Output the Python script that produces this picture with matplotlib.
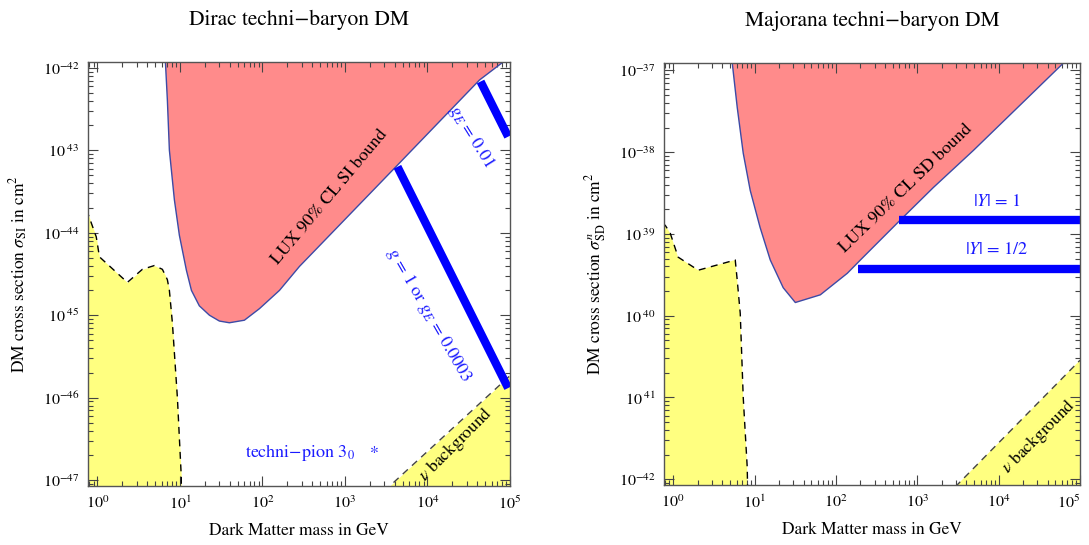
import matplotlib
matplotlib.use('Agg')
import matplotlib.pyplot as plt
from matplotlib.ticker import FixedLocator, LogLocator, NullFormatter

plt.rcParams['font.family'] = ['STIXGeneral', 'DejaVu Serif']
plt.rcParams['mathtext.fontset'] = 'stix'

# --- Dirac panel (spin independent) ---
lux_si_m = [6.5, 6.67, 7.05, 7.46, 8.58, 9.86, 12.0, 13.8, 17.2, 22.8, 30.1, 39.8,
            60.5, 92, 161, 281, 4330, 42700, 85000, 1.2e5]
lux_si_s = [1e-41, 1.2e-42, 4.1e-43, 1.0e-43, 2.5e-44, 9.3e-45, 3.5e-45, 2.0e-45,
            1.3e-45, 1.0e-45, 8.5e-46, 8.1e-46, 8.7e-46, 1.2e-45, 2.0e-45, 3.9e-45,
            6.6e-44, 7.1e-43, 1.2e-42, 1.7e-42]
nu_lo_si_m = [0.74, 0.97, 1.06, 2.31, 3.51, 4.91, 6.14, 7.05, 7.46, 8.11, 9.33, 10.4, 10.45]
nu_lo_si_s = [1.9e-44, 8.9e-45, 5.1e-45, 2.5e-45, 3.6e-45, 4.0e-45, 3.6e-45, 2.7e-45,
              2.0e-45, 8.1e-46, 1.0e-46, 1.1e-47, 1e-48]
nu_hi_si_m = [3000, 1e5]
nu_hi_si_s = [7.4e-48, 1.85e-46]
bar_g1_m = [4330, 95000]
bar_g1_s = [6.3e-44, 1.31e-46]
bar_gE_m = [44000, 95000]
bar_gE_s = [6.8e-43, 1.46e-43]
pion_m = 2290
pion_s = 1.85e-47

# --- Majorana panel (spin dependent) ---
lux_sd_m = [5.2, 5.32, 6.13, 7.26, 8.85, 11.7, 15.6, 22.5, 31.7, 64.3, 138, 200,
            586, 1580, 4900, 62700, 1e5]
lux_sd_s = [1e-36, 1.23e-37, 3.5e-38, 9.7e-39, 3.4e-39, 1.2e-39, 4.8e-40, 2.2e-40,
            1.45e-40, 1.8e-40, 3.3e-40, 4.8e-40, 1.4e-39, 3.7e-39, 1.05e-38,
            1.23e-37, 1.9e-37]
nu_lo_sd_m = [0.74, 0.80, 0.92, 1.15, 2.03, 5.79, 6.13, 6.67, 7.26, 8.13, 8.5]
nu_lo_sd_s = [1.35e-39, 1.27e-39, 1.02e-39, 5.2e-40, 3.6e-40, 4.8e-40, 2.7e-40,
              1.07e-40, 1.0e-41, 1.4e-42, 1e-43]
nu_hi_sd_m = [2940, 1e5]
nu_hi_sd_s = [8.1e-43, 2.85e-41]
bar_y1_m = [603, 1e5]
bar_y1_s = [1.48e-39, 1.48e-39]
bar_yh_m = [189, 1e5]
bar_yh_s = [3.7e-40, 3.7e-40]

x_ticks = [1, 10, 100, 1e3, 1e4, 1e5]
x_labels = [r'$10^{0}$', r'$10^{1}$', r'$10^{2}$', r'$10^{3}$', r'$10^{4}$', r'$10^{5}$']
si_ticks = [1e-47, 1e-46, 1e-45, 1e-44, 1e-43, 1e-42]
si_labels = [r'$10^{-47}$', r'$10^{-46}$', r'$10^{\ 45}$', r'$10^{-44}$',
             r'$10^{\ 43}$', r'$10^{-42}$']
sd_ticks = [1e-42, 1e-41, 1e-40, 1e-39, 1e-38, 1e-37]
sd_labels = [r'$10^{-42}$', r'$10^{\ 41}$', r'$10^{\ 40}$', r'$10^{\ 39}$',
             r'$10^{-38}$', r'$10^{-37}$']

red = '#ff8b8b'
yellow = '#ffff80'
edge = '#3c4aa6'
blue = '#0000ff'
txtblue = '#1a1aff'

fig = plt.figure(figsize=(10.89, 5.45), dpi=100)
ax1 = fig.add_axes([0.0808, 0.1083, 0.3875, 0.7780])
ax2 = fig.add_axes([0.6097, 0.1101, 0.3820, 0.7743])


def style(ax, yt, yl, ylim):
    ax.set_xscale('log')
    ax.set_yscale('log')
    ax.set_xlim(0.77, 1e5)
    ax.set_ylim(*ylim)
    ax.xaxis.set_major_locator(FixedLocator(x_ticks))
    ax.set_xticklabels(x_labels)
    ax.yaxis.set_major_locator(FixedLocator(yt))
    ax.set_yticklabels(yl)
    ax.xaxis.set_minor_locator(LogLocator(base=10, subs=range(2, 10), numticks=20))
    ax.yaxis.set_minor_locator(LogLocator(base=10, subs=range(2, 10), numticks=20))
    ax.xaxis.set_minor_formatter(NullFormatter())
    ax.yaxis.set_minor_formatter(NullFormatter())
    ax.tick_params(which='both', direction='in', top=True, right=True,
                   color='#444444', labelsize=11.5, width=0.8)
    ax.tick_params(which='major', length=7, pad=6)
    ax.tick_params(which='minor', length=3.5)
    for s in ax.spines.values():
        s.set_color('#555555')
        s.set_linewidth(1)
    ax.set_xlabel('Dark Matter mass in GeV', fontsize=12.5)
    ax.xaxis.set_label_coords(0.5, -0.088)


# Dirac panel
ax1.fill_between(lux_si_m, lux_si_s, 1e-30, color=red, lw=0)
ax1.plot(lux_si_m, lux_si_s, color=edge, lw=1)
ax1.fill_between(nu_lo_si_m, nu_lo_si_s, 1e-50, color=yellow, lw=0)
ax1.plot(nu_lo_si_m, nu_lo_si_s, color='black', lw=1, ls=(0, (5, 4)))
ax1.fill_between(nu_hi_si_m, nu_hi_si_s, 1e-50, color=yellow, lw=0)
ax1.plot(nu_hi_si_m, nu_hi_si_s, color='#444444', lw=1, ls=(0, (5, 4)))
ax1.plot(bar_g1_m, bar_g1_s, color=blue, lw=6, solid_capstyle='butt')
ax1.plot(bar_gE_m, bar_gE_s, color=blue, lw=6, solid_capstyle='butt')
ax1.text(pion_m, pion_s, '*', ha='center', va='baseline', fontsize=13, color=txtblue)
style(ax1, si_ticks, si_labels, (10**-47.07, 10**-41.93))
ax1.set_ylabel(r'DM cross section $\sigma_{\rm SI}$ in cm$^2$', fontsize=12.5)
ax1.yaxis.set_label_coords(-0.137, 0.5)
ax1.text(0.5, 1.1, 'Dirac techni\u2212baryon DM', transform=ax1.transAxes,
         ha='center', va='center', fontsize=15.5)
ax1.text(0.573, 0.682, 'LUX 90% CL SI bound', transform=ax1.transAxes,
         ha='center', va='center', rotation=50, fontsize=13)
ax1.text(0.908, 0.823, r'$g_E$ = 0.01', transform=ax1.transAxes,
         ha='center', va='center', rotation=-58, fontsize=13, color=txtblue)
ax1.text(0.808, 0.403, r'$g$ = 1 or $g_E$ = 0.0003', transform=ax1.transAxes,
         ha='center', va='center', rotation=-60, fontsize=13, color=txtblue)
ax1.text(0.502, 0.080, 'techni\u2212pion $3_0$', transform=ax1.transAxes,
         ha='center', va='center', fontsize=13, color=txtblue)
ax1.text(0.872, 0.099, r'$\nu$ background', transform=ax1.transAxes,
         ha='center', va='center', rotation=45, fontsize=12.5)

# Majorana panel
ax2.fill_between(lux_sd_m, lux_sd_s, 1e-30, color=red, lw=0)
ax2.plot(lux_sd_m, lux_sd_s, color=edge, lw=1)
ax2.fill_between(nu_lo_sd_m, nu_lo_sd_s, 1e-50, color=yellow, lw=0)
ax2.plot(nu_lo_sd_m, nu_lo_sd_s, color='black', lw=1, ls=(0, (5, 4)))
ax2.fill_between(nu_hi_sd_m, nu_hi_sd_s, 1e-50, color=yellow, lw=0)
ax2.plot(nu_hi_sd_m, nu_hi_sd_s, color='#444444', lw=1, ls=(0, (5, 4)))
ax2.plot(bar_y1_m, bar_y1_s, color=blue, lw=6, solid_capstyle='butt')
ax2.plot(bar_yh_m, bar_yh_s, color=blue, lw=6, solid_capstyle='butt')
style(ax2, sd_ticks, sd_labels, (10**-42.07, 10**-36.91))
ax2.set_ylabel(r'DM cross section $\sigma^{n}_{\rm SD}$ in cm$^2$', fontsize=12.5)
ax2.yaxis.set_label_coords(-0.135, 0.5)
ax2.get_xticklabels()[-1].set_horizontalalignment('right')
ax2.text(0.5, 1.1, 'Majorana techni\u2212baryon DM', transform=ax2.transAxes,
         ha='center', va='center', fontsize=15.5)
ax2.text(0.582, 0.704, 'LUX 90% CL SD bound', transform=ax2.transAxes,
         ha='center', va='center', rotation=44, fontsize=13)
ax2.text(0.800, 0.671, r'$|Y|$ = 1', transform=ax2.transAxes,
         ha='center', va='center', fontsize=13, color=txtblue)
ax2.text(0.800, 0.557, r'$|Y|$ = 1/2', transform=ax2.transAxes,
         ha='center', va='center', fontsize=13, color=txtblue)
ax2.text(0.901, 0.114, r'$\nu$ background', transform=ax2.transAxes,
         ha='center', va='center', rotation=45, fontsize=12.5)

fig.savefig('out.png', dpi=100)
